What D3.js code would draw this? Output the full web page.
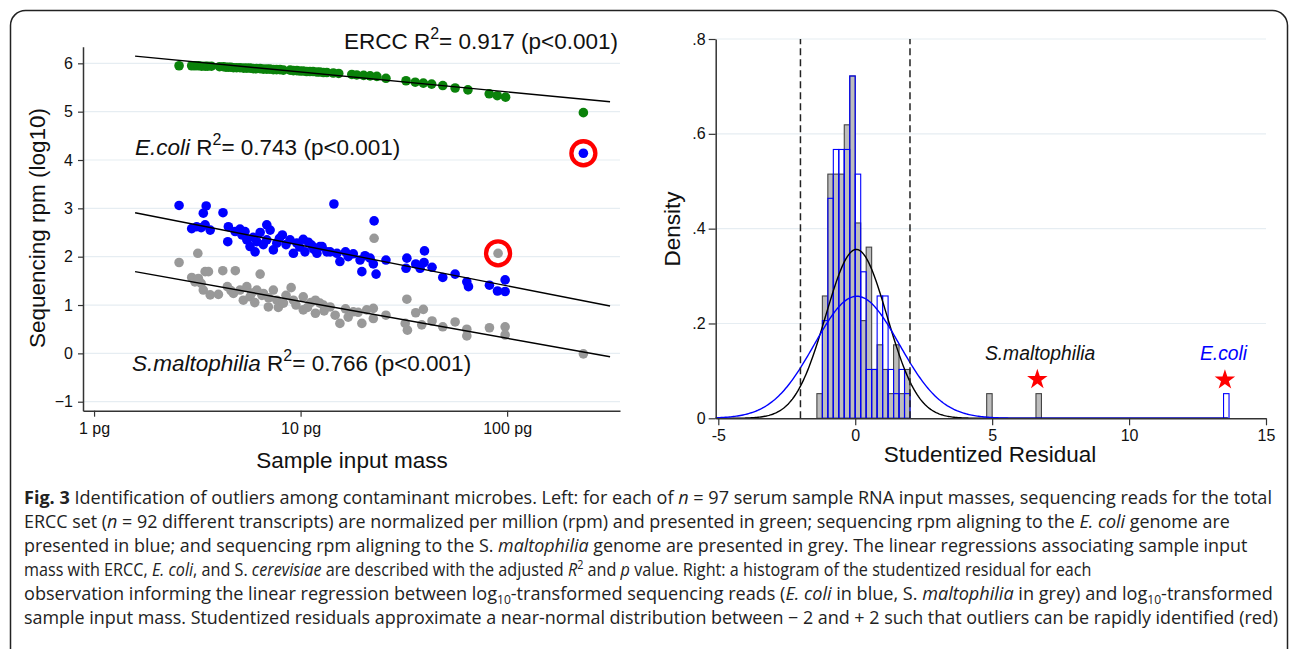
<!DOCTYPE html>
<html>
<head>
<meta charset="utf-8">
<script src="https://cdn.jsdelivr.net/npm/d3@7"></script>
<style>
  body { margin: 0; background: #fff; }
  svg { display: block; font-family: "Liberation Sans", Arial, sans-serif; }
</style>
</head>
<body>
<svg id="fig" width="1290" height="649"></svg>
<script>
// ---- left panel data: sample input mass (pg) vs sequencing rpm (log10) ----
var erccMass = [2.58,2.97,3.08,3.2,3.32,3.45,3.55,3.7,4.05,4.23,4.35,4.47,4.6,4.73,4.9,5.09,5.3,5.49,5.7,5.9,6.1,6.37,6.6,6.86,7.1,7.38,7.65,7.95,8.25,8.9,9.23,9.6,9.94,10.3,10.7,11.1,11.5,12.0,12.4,12.9,13.4,14.4,15.3,17.7,18.7,20.2,21.7,23.4,25.9,32.4,35.9,39.3,43.1,48.8,56.0,64.6,81.9,89.6,98.3,234];
var erccRpm  = [5.95,5.95,5.95,5.95,5.94,5.94,5.94,5.94,5.93,5.93,5.92,5.92,5.92,5.91,5.91,5.91,5.90,5.90,5.90,5.89,5.89,5.89,5.88,5.88,5.88,5.87,5.87,5.87,5.86,5.86,5.85,5.85,5.84,5.84,5.83,5.83,5.83,5.82,5.82,5.81,5.81,5.80,5.79,5.77,5.76,5.75,5.74,5.73,5.69,5.64,5.61,5.59,5.57,5.54,5.49,5.45,5.37,5.33,5.30,4.98];

var ecoliMass = [2.58,3.49,3.38,4.21,2.97,3.14,3.45,3.65,3.3,4.47,4.44,4.82,5.09,5.2,5.38,5.49,5.69,5.9,6.02,6.14,6.37,6.6,6.86,7.12,6.86,7.38,7.67,7.9,8.16,8.5,8.89,9.23,9.59,9.9,10.3,10.5,10.9,11.3,11.6,12.0,12.4,12.7,13.4,13.9,14.5,15.0,15.5,16.5,17.0,18.0,19.4,19.8,20.5,21.7,22.5,22.7,23.2,25.9,32.7,32.4,36.1,37.9,39.8,39.6,43.3,48.8,56.0,63.8,65.0,82.1,89.8,97.8,97.8,234];
var ecoliRpm  = [3.06,3.05,2.90,2.91,2.58,2.62,2.66,2.55,2.60,2.62,2.31,2.52,2.57,2.45,2.52,2.35,2.21,2.40,2.10,2.31,2.50,2.25,2.66,2.55,2.35,2.14,2.28,2.38,2.45,2.25,2.35,2.07,2.28,2.20,2.36,2.10,2.30,2.24,2.15,2.07,2.21,2.21,2.10,2.10,3.09,2.07,1.90,2.10,2.00,2.06,1.93,1.69,2.02,1.97,1.85,2.74,1.64,1.93,1.97,1.76,1.85,1.76,2.12,1.88,1.78,1.57,1.64,1.48,1.38,1.41,1.29,1.52,1.28,4.14];

var smaltMass = [2.58,3.18,2.97,3.08,3.2,3.3,3.45,3.58,3.65,3.38,4.0,4.20,4.83,6.37,4.42,4.6,4.73,5.09,5.49,5.28,5.69,5.8,6.0,6.14,6.5,6.61,6.98,7.0,7.38,7.67,7.8,8.26,8.5,9.00,9.23,9.5,10.3,10.3,10.8,11.2,11.8,11.8,12.9,12.4,13.0,13.9,14.7,15.5,16.5,17.0,18.0,19.0,19.8,20.9,22.5,22.5,22.7,25.9,32.7,32.1,32.9,36.1,39.3,38.6,43.3,48.8,56.0,63.8,63.8,82.1,97.8,97.8,90.4,234];
var smaltRpm  = [1.88,2.07,1.57,1.48,1.55,1.45,1.69,1.69,1.21,1.31,1.22,1.71,1.71,1.64,1.38,1.30,1.24,1.31,1.38,1.10,1.17,1.25,1.05,1.31,1.20,1.24,0.96,1.15,1.31,1.10,0.95,1.04,1.20,1.36,1.10,1.00,0.90,1.17,0.95,1.05,0.83,1.10,1.00,1.04,0.88,0.96,0.79,0.62,0.92,0.75,0.86,0.85,0.62,0.90,0.93,0.72,2.38,0.79,1.12,0.62,0.48,0.84,0.91,0.59,0.67,0.55,0.65,0.50,0.36,0.53,0.55,0.38,2.07,-0.01];

// regression line end points [mass, rpm]
var erccFit  = [[1.58, 6.15], [315, 5.205]];
var ecoliFit = [[1.58, 2.91], [315, 0.98]];
var smaltFit = [[1.58, 1.69], [315, -0.07]];
// circled outliers [mass, rpm]
var circled = [[234, 4.14], [90.4, 2.07]];

var yTicksLeft = [-1, 0, 1, 2, 3, 4, 5, 6];
var xTicksLeft = [1, 10, 100];

// ---- right panel data: histograms of studentized residuals (bin width .2) ----
var binStarts    = [-1.4,-1.2,-1.0,-0.8,-0.6,-0.4,-0.2,0,0.2,0.4,0.6,0.8,1.0,1.2,1.4,1.6,1.8];
var smaltDensity = [0.052,0.258,0.515,0.515,0.515,0.619,0.722,0.412,0.206,0.361,0.103,0.155,0.103,0.052,0.155,0.052,0.103];
var ecoliDensity = [0,0.206,0.464,0.567,0.567,0.567,0.722,0.515,0.309,0.103,0.103,0.258,0.258,0.103,0.052,0.103,0.052];
var smaltOutStarts = [4.8, 6.6], smaltOutDensity = [0.052, 0.052];
var ecoliOutStarts = [13.45],    ecoliOutDensity = [0.052];
var binWidth = 0.2;
// normal overlays: [mean, sd]
var smaltNormal = [0.04, 1.12];
var ecoliNormal = [0.06, 1.55];
var cutoffs = [-2, 2];
var stars = [[6.65, 0.082], [13.5, 0.081]];
var yTicksRight = [0, 0.2, 0.4, 0.6, 0.8];
var xTicksRight = [-5, 0, 5, 10, 15];

var svg = d3.select("#fig");
var axisCol = "#333";
var chartFont = "'Liberation Sans', Arial, sans-serif";

// figure frame
svg.append("rect")
  .attr("x", 10.5).attr("y", 10.5)
  .attr("width", 1277).attr("height", 720)
  .attr("rx", 15)
  .attr("fill", "none").attr("stroke", "#222").attr("stroke-width", 1.5);

// ================= LEFT PANEL =================
var xL = d3.scaleLog().domain([0.884, 352]).range([83, 620]);
var yL = d3.scaleLinear().domain([-1.186, 6.344]).range([410.7, 46.7]);

var left = svg.append("g").attr("font-family", chartFont);

left.selectAll(".gridL").data(yTicksLeft).enter().append("line")
  .attr("x1", xL.range()[0]).attr("x2", xL.range()[1])
  .attr("y1", function(d) { return yL(d); }).attr("y2", function(d) { return yL(d); })
  .attr("stroke", "#e6edf2").attr("stroke-width", 1.2);

function dots(mass, vals, col) {
  left.append("g").selectAll("circle")
    .data(mass.map(function(m, i) { return [m, vals[i]]; }))
    .enter().append("circle")
    .attr("cx", function(d) { return xL(d[0]); })
    .attr("cy", function(d) { return yL(d[1]); })
    .attr("r", 4.8)
    .attr("fill", col);
}
dots(smaltMass, smaltRpm, "#999999");
dots(ecoliMass, ecoliRpm, "#0000ff");
dots(erccMass, erccRpm, "#0a820a");

var fitLine = d3.line().x(function(d) { return xL(d[0]); }).y(function(d) { return yL(d[1]); });
[erccFit, ecoliFit, smaltFit].forEach(function(f) {
  left.append("path").attr("d", fitLine(f))
    .attr("fill", "none").attr("stroke", "#000").attr("stroke-width", 1.4);
});

left.selectAll(".ring").data(circled).enter().append("circle")
  .attr("cx", function(d) { return xL(d[0]); })
  .attr("cy", function(d) { return yL(d[1]); })
  .attr("r", 12)
  .attr("fill", "none").attr("stroke", "#ff0000").attr("stroke-width", 4.3);

var axL = left.append("g").attr("transform", "translate(83,0)")
  .call(d3.axisLeft(yL).tickValues(yTicksLeft).tickSize(5).tickPadding(5).tickSizeOuter(0).tickFormat(d3.format("d")));
var axB = left.append("g").attr("transform", "translate(0,410.7)")
  .call(d3.axisBottom(xL).tickValues(xTicksLeft).tickSize(6).tickPadding(6).tickSizeOuter(0)
    .tickFormat(function(d) { return d + " pg"; }));
[axL, axB].forEach(function(a) {
  a.select(".domain").attr("stroke", axisCol).attr("stroke-width", 1.5);
  a.selectAll(".tick line").attr("stroke", axisCol).attr("stroke-width", 1.2);
  a.selectAll("text").attr("font-size", "16px").attr("fill", "#111").attr("font-family", chartFont);
});

left.append("text")
  .attr("transform", "translate(45,228) rotate(-90)")
  .attr("text-anchor", "middle").attr("font-size", "22.5px").attr("fill", "#111")
  .text("Sequencing rpm (log10)");
left.append("text")
  .attr("x", 352).attr("y", 468)
  .attr("text-anchor", "middle").attr("font-size", "22.5px").attr("fill", "#111")
  .text("Sample input mass");

// R^2 annotations
function rLabel(x, y, anchor, name, italic, r2) {
  var t = left.append("text").attr("x", x).attr("y", y)
    .attr("text-anchor", anchor).attr("font-size", "22.5px").attr("fill", "#111");
  t.append("tspan").attr("font-style", italic ? "italic" : "normal").text(name);
  t.append("tspan").text(" R");
  t.append("tspan").attr("dy", -10).attr("font-size", "16px").text("2");
  t.append("tspan").attr("dy", 10).text("= " + r2 + " (p<0.001)");
}
rLabel(618, 49, "end", "ERCC", false, "0.917");
rLabel(135, 155, "start", "E.coli", true, "0.743");
rLabel(132, 371, "start", "S.maltophilia", true, "0.766");

// ================= RIGHT PANEL =================
var xR = d3.scaleLinear().domain([-5.095, 15]).range([715.7, 1266]);
var yR = d3.scaleLinear().domain([0, 0.8]).range([418.3, 39]);
var right = svg.append("g").attr("font-family", chartFont);

right.selectAll(".gridR").data(yTicksRight.slice(1)).enter().append("line")
  .attr("x1", xR.range()[0]).attr("x2", xR.range()[1])
  .attr("y1", function(d) { return yR(d); }).attr("y2", function(d) { return yR(d); })
  .attr("stroke", "#e6edf2").attr("stroke-width", 1.2);

function bars(starts, dens, fill, stroke) {
  right.append("g").selectAll("rect")
    .data(starts.map(function(s, i) { return [s, dens[i]]; }).filter(function(d) { return d[1] > 0; }))
    .enter().append("rect")
    .attr("x", function(d) { return xR(d[0]); })
    .attr("width", function(d) { return xR(d[0] + binWidth) - xR(d[0]); })
    .attr("y", function(d) { return yR(d[1]); })
    .attr("height", function(d) { return yR(0) - yR(d[1]); })
    .attr("fill", fill).attr("stroke", stroke).attr("stroke-width", 1.1);
}
bars(binStarts.concat(smaltOutStarts), smaltDensity.concat(smaltOutDensity), "#bdbdbd", "#444");
bars(binStarts.concat(ecoliOutStarts), ecoliDensity.concat(ecoliOutDensity), "none", "#0000ff");

function normalPath(p, col) {
  var xs = d3.range(-5.095, 13.62, 0.05);
  var line = d3.line()
    .x(function(x) { return xR(x); })
    .y(function(x) {
      var z = (x - p[0]) / p[1];
      return yR(Math.exp(-0.5 * z * z) / (p[1] * Math.sqrt(2 * Math.PI)));
    });
  right.append("path").attr("d", line(xs))
    .attr("fill", "none").attr("stroke", col).attr("stroke-width", 1.4);
}
normalPath(smaltNormal, "#000");
normalPath(ecoliNormal, "#0000ff");

right.selectAll(".cut").data(cutoffs).enter().append("line")
  .attr("x1", function(d) { return xR(d); }).attr("x2", function(d) { return xR(d); })
  .attr("y1", yR(0)).attr("y2", yR(0.8))
  .attr("stroke", "#222").attr("stroke-width", 1.5).attr("stroke-dasharray", "7,4");

right.selectAll(".star").data(stars).enter().append("path")
  .attr("transform", function(d) { return "translate(" + xR(d[0]) + "," + yR(d[1]) + ")"; })
  .attr("d", d3.symbol(d3.symbolStar, 130))
  .attr("fill", "#ff0000");

right.append("text").attr("x", xR(6.75)).attr("y", 360)
  .attr("text-anchor", "middle").attr("font-size", "19.3px").attr("font-style", "italic").attr("fill", "#111")
  .text("S.maltophilia");
right.append("text").attr("x", xR(13.45)).attr("y", 360)
  .attr("text-anchor", "middle").attr("font-size", "19.3px").attr("font-style", "italic").attr("fill", "#0000ff")
  .text("E.coli");

var axR = right.append("g").attr("transform", "translate(715.7,0)")
  .call(d3.axisLeft(yR).tickValues(yTicksRight).tickSize(7).tickPadding(3).tickSizeOuter(0)
    .tickFormat(function(d) { return d === 0 ? "0" : d3.format(".1f")(d).replace(/^0/, ""); }));
var axRB = right.append("g").attr("transform", "translate(0,418.3)")
  .call(d3.axisBottom(xR).tickValues(xTicksRight).tickSize(7).tickPadding(4).tickSizeOuter(0));
[axR, axRB].forEach(function(a) {
  a.select(".domain").attr("stroke", axisCol).attr("stroke-width", 1.5);
  a.selectAll(".tick line").attr("stroke", axisCol).attr("stroke-width", 1.2);
  a.selectAll("text").attr("font-size", "16px").attr("fill", "#111").attr("font-family", chartFont);
});
axRB.selectAll("text").text(function(d) { return d < 0 ? "-" + Math.abs(d) : d; });

right.append("text")
  .attr("transform", "translate(680,229) rotate(-90)")
  .attr("text-anchor", "middle").attr("font-size", "22.5px").attr("fill", "#111")
  .text("Density");
right.append("text")
  .attr("x", 990).attr("y", 462)
  .attr("text-anchor", "middle").attr("font-size", "22.5px").attr("fill", "#111")
  .text("Studentized Residual");

// ================= CAPTION =================
var captionLines = [
  [["Fig. 3","b"],[" Identification of outliers among contaminant microbes. Left: for each of ",""],["n","i"],[" = 97 serum sample RNA input masses, sequencing reads for the total",""]],
  [["ERCC set (",""],["n","i"],[" = 92 different transcripts) are normalized per million (rpm) and presented in green; sequencing rpm aligning to the ",""],["E. coli","i"],[" genome are",""]],
  [["presented in blue; and sequencing rpm aligning to the S. ",""],["maltophilia","i"],[" genome are presented in grey. The linear regressions associating sample input",""]],
  [["mass with ERCC, ",""],["E. coli","i"],[", and S. ",""],["cerevisiae","i"],[" are described with the adjusted ",""],["R","i"],["2","sup"],[" and ",""],["p","i"],[" value. Right: a histogram of the studentized residual for each",""]],
  [["observation informing the linear regression between log",""],["10","sub"],["-transformed sequencing reads (",""],["E. coli","i"],[" in blue, S. ",""],["maltophilia","i"],[" in grey) and log",""],["10","sub"],["-transformed",""]],
  [["sample input mass. Studentized residuals approximate a near-normal distribution between \u2212 2 and + 2 such that outliers can be rapidly identified (red)",""]]
];
var captionEnds = [1273, 1231, 1248, 1092, 1274, 1280];

captionLines.forEach(function(segs, i) {
  var g = svg.append("g");
  var t = g.append("text")
    .attr("x", 0).attr("y", 0)
    .attr("font-family", "'Open Sans', 'Noto Sans', sans-serif")
    .attr("font-size", "18px").attr("fill", "#222");
  var shift = 0;
  segs.forEach(function(s) {
    var sp = t.append("tspan").text(s[0]);
    var target = s[1] === "sup" ? -7 : (s[1] === "sub" ? 4 : 0);
    if (target !== shift) { sp.attr("dy", target - shift); shift = target; }
    if (s[1] === "b") sp.attr("font-weight", "bold");
    if (s[1] === "i") sp.attr("font-style", "italic");
    if (s[1] === "sup" || s[1] === "sub") sp.attr("font-size", "12px");
  });
  // squeeze each line horizontally to the width it has in the figure
  var w = t.node().getComputedTextLength();
  var sx = (captionEnds[i] - 24) / w;
  g.attr("transform", "translate(24," + (504 + i * 24) + ") scale(" + sx + ",1)");
});
</script>
</body>
</html>
